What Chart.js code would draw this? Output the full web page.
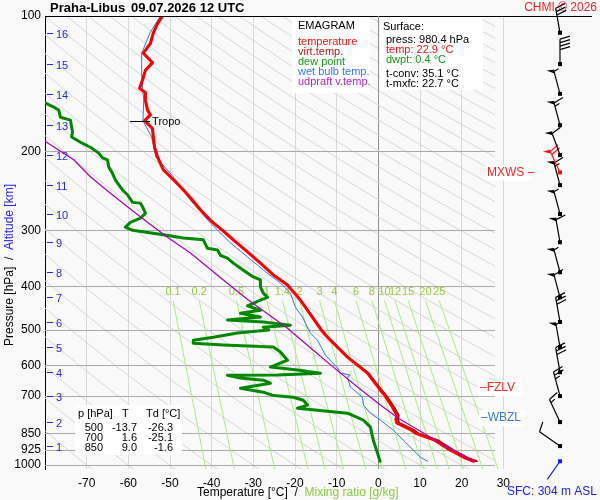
<!DOCTYPE html>
<html>
<head>
<meta charset="utf-8">
<script src="https://cdn.jsdelivr.net/npm/chart.js@4.4.1/dist/chart.umd.min.js"></script>
<style>
  html, body { margin: 0; padding: 0; background: #f9f9f9; }
  canvas { display: block; }
</style>
</head>
<body>
<canvas id="emagram" width="600" height="500"></canvas>
<script>
// Sounding Praha-Libus 09.07.2026 12 UTC
const tempP = [980.4, 965, 926, 880, 850, 836, 805, 790, 775, 743, 700, 681, 624, 575, 519, 500, 429, 397, 377, 355, 335, 315, 300, 285, 270, 254, 240, 228, 220, 206, 196, 186, 178, 171, 166, 162, 154, 148, 145, 137, 132, 127, 121, 115, 109, 104, 100];
const tempT = [22.9, 20.9, 17.3, 13.5, 9.0, 8.0, 4.4, 4.2, 4.5, 3.4, 1.6, 0.5, -2.6, -7.4, -12.2, -13.7, -18.7, -21.8, -25.2, -28.3, -31.4, -34.8, -37.4, -40.3, -42.7, -45.1, -47.5, -49.9, -51.6, -53.0, -53.7, -54.0, -54.2, -56.1, -54.7, -55.4, -55.9, -55.9, -57.3, -56.4, -55.9, -54.2, -56.4, -54.7, -54.0, -53.0, -51.8];
const virtT = [23.6, 21.6, 18.0, 14.2, 9.6, 8.6, 5.0, 4.7, 4.9, 3.8, 1.9, 0.8, -2.4, -7.3, -12.1, -13.6, -18.7, -21.8, -25.2, -28.3, -31.4, -34.8, -37.4, -40.3, -42.7, -45.1, -47.5, -49.9, -51.6, -53.0, -53.7, -54.0, -54.2, -56.1, -54.7, -55.4, -55.9, -55.9, -57.3, -56.4, -55.9, -54.2, -56.4, -54.7, -54.0, -53.0, -51.8];

const dewP = [980.4, 940, 880, 850, 823, 794, 766, 747, 735, 717, 706, 700, 688, 674, 657, 647, 640, 631, 630, 624, 614, 605, 584, 560, 546, 540, 535, 527, 519, 508, 500, 493, 488, 480, 475, 468, 459, 452, 442, 429, 423, 414, 401, 387, 381, 368, 355, 346, 341, 332, 329, 315, 312, 307, 300, 295, 288, 282, 275, 268, 261, 260, 250, 244, 232, 224, 217, 209, 207, 202, 196, 191, 186, 181, 170.5, 168, 162, 159.5, 156];
const dewT = [0.4, -0.2, -1.2, -1.6, -1.9, -3.6, -7.4, -19.4, -17.0, -18.0, -20.4, -25.1, -27.6, -33.1, -25.9, -27.6, -33.1, -36.2, -24.2, -13.9, -19.4, -25.9, -21.8, -23.5, -25.2, -37.2, -44.4, -44.4, -39.6, -33.8, -26.3, -27.6, -21.1, -27.6, -36.2, -28.3, -33.1, -28.3, -31.4, -28.3, -26.6, -27.6, -28.3, -28.3, -30.0, -32.4, -34.8, -36.2, -37.9, -38.6, -41.0, -42.0, -46.8, -51.6, -59.0, -60.7, -59.5, -57.1, -55.9, -56.4, -57.1, -59.0, -60.2, -61.4, -63.1, -63.8, -64.7, -65.0, -66.2, -67.1, -69.1, -71.5, -73.6, -73.4, -73.9, -76.3, -76.7, -77.9, -80.0];

const wetP = [980.4, 960, 926, 880, 836, 794, 766, 735, 706, 670, 637, 630, 624, 608, 569, 527, 508, 483, 468, 445, 414, 393, 374, 344, 320, 289, 257, 228, 206, 186, 171, 154, 137, 121, 109, 100];
const wetT = [11.8, 10.1, 8.4, 6.0, 3.6, 0.5, -1.9, -3.6, -3.8, -6.7, -7.4, -6.7, -9.1, -9.8, -12.7, -14.6, -16.3, -17.5, -18.2, -19.9, -21.1, -23.5, -26.6, -31.4, -35.5, -40.3, -45.1, -49.2, -53.4, -54.4, -56.5, -56.3, -56.8, -56.8, -54.8, -52.3];

const updraftP = [980.4, 893, 786, 735, 670, 605, 555, 493, 429, 387, 337, 311, 288, 266, 248, 228, 209, 190];
const updraftT = [22.8, 14.9, 4.8, 0.5, -5.0, -10.8, -15.6, -22.1, -31.2, -37.2, -45.1, -50.6, -55.4, -60.2, -64.3, -69.1, -73.1, -80.0];

// axes and reference lines
const pressureTicks = [100, 200, 300, 400, 500, 600, 700, 850, 925, 1000];
const mixingRatios = [0.1, 0.2, 0.5, 1, 1.4, 2, 3, 4, 6, 8, 10, 12, 15, 20, 25];
const adiabatThetas = [-70, -60, -50, -40, -30, -20, -10, 0, 10, 20, 30, 40, 50, 60, 70, 80, 90, 100, 110, 120, 130, 140, 150, 160, 170, 180, 190, 200, 210, 220, 230, 240, 250, 260, 270, 280, 290, 300, 310];
const altitudeKm = [1, 2, 3, 4, 5, 6, 7, 8, 9, 10, 11, 12, 13, 14, 15, 16];
const altitudeP = [907, 802, 702, 621, 546, 480, 423, 372, 319, 276, 238, 204, 175, 149, 128, 109];

// winds (knots, direction from)
const windP = [980.4, 907, 802, 702, 621, 546, 480, 423, 372, 319, 276, 238, 223, 204, 175, 149, 128, 109];
const windDir = [215, 305, 335, 345, 350, 350, 350, 345, 345, 350, 345, 345, 335, 340, 345, 345, 0, 350];
const windSpd = [2, 10, 15, 25, 30, 55, 30, 60, 55, 60, 55, 65, 70, 60, 65, 55, 40, 30];
const maxWindP = 223;

// levels and summary
const tropoP = 171;
const fzlvP = 674;
const wbzlP = 786;
const tableRows = [['500', '-13.7', '-26.3'], ['700', '1.6', '-25.1'], ['850', '9.0', '-1.6']];

const FONT = '"Liberation Sans", Arial, sans-serif';
Chart.defaults.font.family = FONT;

function mixT(w, p) {
    const e = w * p / (622 + w);
    const l = Math.log(e / 6.112);
    return 243.5 * l / (17.67 - l);
}

function pts(ps, ts) {
    return ps.map((p, i) => ({ x: ts[i], y: p }));
}

function drawBarb(ctx, bx, by, dir, spd, color) {
    const r = dir * Math.PI / 180;
    const ux = Math.sin(r), uy = -Math.cos(r);
    const px = -uy, py = ux;
    const L = spd < 5 ? 22 : 25;
    const tx = bx + ux * L, ty = by + uy * L;
    ctx.strokeStyle = color;
    ctx.fillStyle = color;
    ctx.lineWidth = 1.2;
    ctx.beginPath();
    ctx.moveTo(bx, by);
    ctx.lineTo(tx, ty);
    ctx.stroke();
    ctx.fillRect(bx - 2, by - 2, 4, 4);
    let s = Math.round(spd / 5) * 5;
    let pos = 0;
    if (s >= 50) {
        ctx.beginPath();
        ctx.moveTo(tx, ty);
        ctx.lineTo(tx - px * 7 + ux * 1, ty - py * 7 + uy * 1);
        ctx.lineTo(tx - ux * 4, ty - uy * 4);
        ctx.closePath();
        ctx.fill();
        s -= 50;
        pos = 2;
    }
    while (s >= 10) {
        const sx = tx - ux * pos, sy = ty - uy * pos;
        ctx.beginPath();
        ctx.moveTo(sx, sy);
        ctx.lineTo(sx + px * 10 + ux * 3, sy + py * 10 + uy * 3);
        ctx.stroke();
        pos += 3.5;
        s -= 10;
    }
    if (s >= 5) {
        const sx = tx - ux * pos, sy = ty - uy * pos;
        ctx.beginPath();
        ctx.moveTo(sx, sy);
        ctx.lineTo(sx + px * 5 + ux * 1.5, sy + py * 5 + uy * 1.5);
        ctx.stroke();
    }
}

function labelBox(ctx, text, x, y, color, bw) {
    ctx.fillStyle = '#ffffff';
    ctx.fillRect(x - 2, y - 8, bw, 16);
    ctx.fillStyle = color;
    ctx.textAlign = 'left';
    ctx.fillText(text, x, y);
}

const emagramPlugin = {
    id: 'emagram',
    beforeDraw(chart) {
        const ctx = chart.ctx;
        ctx.save();
        ctx.fillStyle = '#f9f9f9';
        ctx.fillRect(0, 0, chart.width, chart.height);
        ctx.restore();
    },
    beforeDatasetsDraw(chart) {
        const { ctx, chartArea: a, scales: { x, y } } = chart;
        const xClip = x.getPixelForValue(28);
        ctx.save();
        ctx.beginPath();
        ctx.rect(a.left, a.top, xClip - a.left, a.bottom - a.top);
        ctx.clip();
        // dry adiabats
        ctx.strokeStyle = '#d6d6d6';
        ctx.lineWidth = 1;
        adiabatThetas.forEach(th => {
            ctx.beginPath();
            for (let k = 0; k <= 80; k++) {
                const p = 1030 * Math.pow(100 / 1030, k / 80);
                const t = (th + 273.15) * Math.pow(p / 1000, 0.286) - 273.15;
                const X = x.getPixelForValue(t), Y = y.getPixelForValue(p);
                if (k === 0) ctx.moveTo(X, Y); else ctx.lineTo(X, Y);
            }
            ctx.stroke();
        });
        // pressure lines
        ctx.strokeStyle = '#a8a8a8';
        pressureTicks.forEach(p => {
            const Y = Math.round(y.getPixelForValue(p)) + 0.5;
            ctx.beginPath();
            ctx.moveTo(a.left, Y);
            ctx.lineTo(xClip + 7, Y);
            ctx.stroke();
        });
        ctx.restore();

        // mixing ratio lines
        ctx.save();
        ctx.beginPath();
        ctx.rect(a.left, a.top, a.right - a.left, a.bottom - a.top);
        ctx.clip();
        ctx.strokeStyle = '#a6f07c';
        ctx.lineWidth = 1;
        mixingRatios.forEach(w => {
            ctx.beginPath();
            ctx.moveTo(x.getPixelForValue(mixT(w, 1030)), y.getPixelForValue(1030));
            ctx.lineTo(x.getPixelForValue(mixT(w, 430)), y.getPixelForValue(430));
            ctx.stroke();
        });
        ctx.restore();
        ctx.save();
        ctx.font = '11px ' + FONT;
        ctx.fillStyle = '#9acb3c';
        ctx.textAlign = 'center';
        ctx.textBaseline = 'middle';
        mixingRatios.forEach(w => {
            ctx.fillText(String(w), x.getPixelForValue(mixT(w, 430)), y.getPixelForValue(412));
        });
        ctx.restore();
    },
    afterDraw(chart) {
        const { ctx, chartArea: a, scales: { x, y } } = chart;
        ctx.save();
        ctx.textBaseline = 'middle';

        // top border
        ctx.strokeStyle = '#000';
        ctx.lineWidth = 1;
        ctx.beginPath();
        ctx.moveTo(a.left, a.top + 0.5);
        ctx.lineTo(592, a.top + 0.5);
        ctx.stroke();

        // title
        ctx.fillStyle = '#000';
        ctx.font = 'bold 13px ' + FONT;
        ctx.textAlign = 'left';
        ctx.fillText('Praha-Libus', 50, 8);
        ctx.fillText('09.07.2026 12 UTC', 131, 8);
        ctx.font = '12px ' + FONT;
        ctx.fillStyle = '#ff2020';
        ctx.textAlign = 'right';
        ctx.fillText('CHMI \u00a9 2026', 597, 8);

        // altitude labels
        ctx.font = '11px ' + FONT;
        ctx.textAlign = 'left';
        ctx.fillStyle = '#2424ee';
        ctx.strokeStyle = '#2424ee';
        altitudeKm.forEach((km, i) => {
            const Y = Math.round(y.getPixelForValue(altitudeP[i])) + 0.5;
            ctx.beginPath();
            ctx.moveTo(47, Y);
            ctx.lineTo(53, Y);
            ctx.stroke();
            ctx.fillText(String(km), 56, Y + 1);
        });

        // tropopause
        const tY = y.getPixelForValue(tropoP);
        ctx.strokeStyle = '#000';
        ctx.beginPath();
        ctx.moveTo(x.getPixelForValue(-59.6), Math.round(tY) + 0.5);
        ctx.lineTo(x.getPixelForValue(-54.8), Math.round(tY) + 0.5);
        ctx.stroke();
        ctx.fillStyle = '#000';
        ctx.fillText('Tropo', x.getPixelForValue(-54.3), tY + 1);

        // legend box
        ctx.fillStyle = '#ffffff';
        ctx.fillRect(292, 17, 78, 76);
        ctx.fillRect(380, 17, 103, 73);
        ctx.font = '11px ' + FONT;
        ctx.fillStyle = '#000';
        ctx.fillText('EMAGRAM', 298, 26);
        const legend = [['temperature', '#ff1010'], ['virt.temp.', '#b01818'], ['dew point', '#119a11'], ['wet bulb temp.', '#3377ee'], ['udpraft v.temp.', '#bb22cc']];
        legend.forEach((l, i) => {
            ctx.fillStyle = l[1];
            ctx.fillText(l[0], 298, 42 + i * 10);
        });
        ctx.fillStyle = '#000';
        ctx.fillText('Surface:', 383, 27);
        ctx.fillText('press: 980.4 hPa', 386, 40);
        ctx.fillStyle = '#ff1010';
        ctx.fillText('temp: 22.9 \u00b0C', 386, 50);
        ctx.fillStyle = '#119a11';
        ctx.fillText('dwpt: 0.4 \u00b0C', 386, 60);
        ctx.fillStyle = '#000';
        ctx.fillText('t-conv: 35.1 \u00b0C', 386, 74);
        ctx.fillText('t-mxfc: 22.7 \u00b0C', 386, 84);

        // 0 deg line over the boxes gap
        ctx.strokeStyle = '#909090';
        ctx.beginPath();
        ctx.moveTo(Math.round(x.getPixelForValue(0)) + 0.5, a.top);
        ctx.lineTo(Math.round(x.getPixelForValue(0)) + 0.5, a.top + 80);
        ctx.stroke();

        // summary table
        ctx.fillStyle = '#ffffff';
        ctx.fillRect(75, 405, 107, 50);
        ctx.fillStyle = '#000';
        ctx.textAlign = 'left';
        ctx.fillText('p [hPa]', 78, 414);
        ctx.fillText('T', 122, 414);
        ctx.fillText('Td [\u00b0C]', 146, 414);
        ctx.textAlign = 'right';
        tableRows.forEach((r, i) => {
            const Y = 428 + i * 10;
            ctx.fillText(r[0], 103, Y);
            ctx.fillText(r[1], 137, Y);
            ctx.fillText(r[2], 173, Y);
        });

        // level labels
        ctx.textAlign = 'left';
        ctx.font = '12px ' + FONT;
        labelBox(ctx, '\u2013FZLV', 480, y.getPixelForValue(fzlvP), '#ff2020', 44);
        labelBox(ctx, '\u2013WBZL', 481, y.getPixelForValue(wbzlP), '#3377ee', 46);
        labelBox(ctx, 'MXWS \u2013', 487, y.getPixelForValue(maxWindP), '#ff2020', 46);

        // wind barbs
        windP.forEach((p, i) => {
            const color = i === 0 ? '#1a1aee' : (p === maxWindP ? '#ff1010' : '#000');
            drawBarb(ctx, 560, y.getPixelForValue(p), windDir[i], windSpd[i], color);
        });

        // axis titles
        ctx.font = '12px ' + FONT;
        ctx.textAlign = 'left';
        ctx.fillStyle = '#000';
        const xt1 = 'Temperature [\u00b0C]  /  ';
        ctx.fillText(xt1, 197, 493);
        ctx.fillStyle = '#8ccc40';
        ctx.fillText('Mixing ratio [g/kg]', 197 + ctx.measureText(xt1).width, 493);
        ctx.fillStyle = '#2020ee';
        ctx.textAlign = 'right';
        ctx.fillText('SFC: 304 m ASL', 597, 492);

        ctx.translate(10, 265);
        ctx.rotate(-Math.PI / 2);
        ctx.textAlign = 'left';
        const parts = [['Pressure [hPa]', '#000'], ['  /  ', '#000'], ['Altitude [km]', '#2424ee']];
        const total = parts.reduce((s, q) => s + ctx.measureText(q[0]).width, 0);
        let px = -total / 2;
        parts.forEach(q => {
            ctx.fillStyle = q[1];
            ctx.fillText(q[0], px, 0);
            px += ctx.measureText(q[0]).width;
        });
        ctx.restore();
    }
};

const line = (label, data, color, width, order) => ({
    label, data, borderColor: color, backgroundColor: color, borderWidth: width,
    showLine: true, pointRadius: 0, tension: 0, order,
    borderJoinStyle: 'round', borderCapStyle: 'round'
});

new Chart(document.getElementById('emagram').getContext('2d'), {
    type: 'scatter',
    data: {
        datasets: [
            line('updraft v.temp.', pts(updraftP, updraftT), '#aa00bb', 1.2, 0),
            line('temperature', pts(tempP, tempT), '#ff0000', 3, 1),
            line('virt.temp.', pts(tempP, virtT), '#a00000', 2, 2),
            line('wet bulb temp.', pts(wetP, wetT), '#3377ee', 1, 3),
            line('dew point', pts(dewP, dewT), '#008800', 3, 4)
        ]
    },
    options: {
        responsive: false,
        animation: false,
        devicePixelRatio: 1,
        layout: { padding: { top: 16, right: 55, left: 0, bottom: 0 } },
        plugins: { legend: { display: false }, tooltip: { enabled: false } },
        scales: {
            x: {
                type: 'linear', min: -80, max: 40,
                afterFit: s => { s.height = 31; },
                ticks: {
                    stepSize: 10, autoSkip: false, maxRotation: 0, padding: 7,
                    color: '#000', font: { size: 12 },
                    callback: v => (v === -80 || v === 40) ? '' : String(v)
                },
                grid: {
                    drawTicks: false, lineWidth: 1,
                    color: c => c.tick.value === 0 ? '#909090' : ((c.tick.value === -80 || c.tick.value === 40) ? 'rgba(0,0,0,0)' : '#d9d9d9')
                },
                border: { display: false }
            },
            y: {
                type: 'logarithmic', reverse: true, min: 100, max: 1020,
                afterFit: s => { s.width = 45; },
                afterBuildTicks: s => { s.ticks = pressureTicks.map(v => ({ value: v })); },
                ticks: { color: '#000', font: { size: 12 }, padding: 4, callback: v => String(v) },
                grid: { display: false, drawTicks: false },
                border: { display: true, color: '#000', width: 1 }
            }
        }
    },
    plugins: [emagramPlugin]
});
</script>
</body>
</html>
